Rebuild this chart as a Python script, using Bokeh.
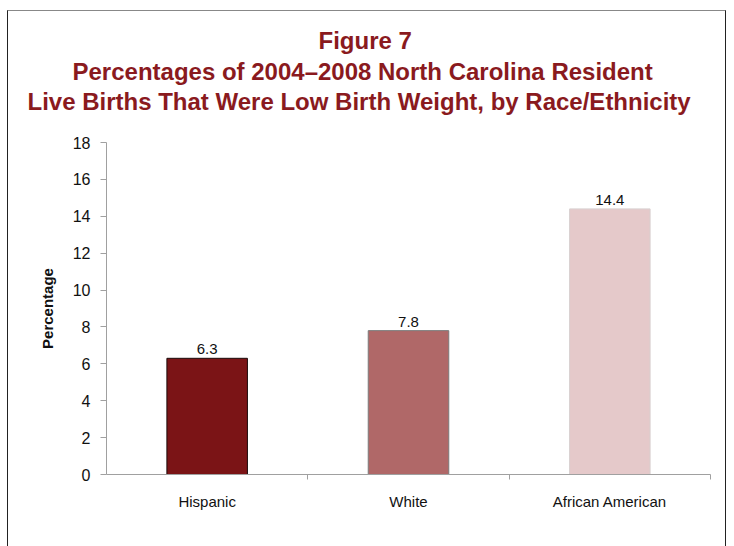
from bokeh.plotting import figure
from bokeh.models import ColumnDataSource, FixedTicker, Range1d, Title, LabelSet
from bokeh.core.properties import value
from bokeh.embed import file_html
from bokeh.resources import INLINE
import numpy as np

# Low birth weight share of NC resident live births, 2004-2008
categories = ["Hispanic", "White", "African American"]
percentages = [6.3, 7.8, 14.4]
bar_fill = ["#7B1416", "#B06868", "#E5C9CA"]
bar_edge = ["#1A0A0A", "#7A7A7A", "#D8D0D0"]
y_ticks = [0, 2, 4, 6, 8, 10, 12, 14, 16, 18]

centers = np.arange(len(categories)) + 0.5
source = ColumnDataSource(dict(
    x=centers,
    top=percentages,
    fill=bar_fill,
    edge=bar_edge,
    label=[f"{v:.1f}" for v in percentages],
))

FONT = "Liberation Sans"
TITLE_RED = "#8A1A1E"
W, H = 719, 540

p = figure(
    width=W, height=H,
    x_range=Range1d(0, len(categories)),
    y_range=Range1d(0, 18),
    output_backend="svg", toolbar_location=None,
    min_border_left=98, min_border_right=17,
    min_border_top=0, min_border_bottom=77,
)
p.margin = (10, 0, 0, 7)
p.styles = {
    "border-left": "1px solid #222",
    "border-right": "1px solid #222",
    "border-top": "1px solid #888",
}
p.outline_line_color = None
p.grid.visible = False
p.background_fill_color = "white"
p.border_fill_color = "white"

# bars
p.vbar(x="x", top="top", width=0.4, bottom=0, source=source,
       fill_color="fill", line_color="edge", line_width=1)

# value labels above bars
p.add_layout(LabelSet(x="x", y="top", text="label", source=source,
                      text_align="center", text_baseline="bottom", y_offset=4,
                      text_font=value(FONT), text_font_size="15px",
                      text_color="#111"))

# y axis
yax = p.yaxis[0]
yax.ticker = FixedTicker(ticks=y_ticks)
yax.minor_tick_line_color = None
yax.major_tick_in = 0
yax.major_tick_out = 6
yax.axis_line_color = "#A0A0A0"
yax.major_tick_line_color = "#A0A0A0"
yax.major_label_text_font = FONT
yax.major_label_text_font_size = "16px"
yax.major_label_text_color = "#111"
yax.major_label_standoff = 10
yax.axis_label = "Percentage"
yax.axis_label_text_font = FONT
yax.axis_label_text_font_style = "bold"
yax.axis_label_text_font_size = "15px"
yax.axis_label_text_color = "#111"
yax.axis_label_standoff = 14

# x axis: labels at category centres, separator ticks between categories
xax = p.xaxis[0]
xax.ticker = FixedTicker(ticks=list(centers),
                         minor_ticks=list(range(1, len(categories) + 1)))
xax.major_label_overrides = {float(c): name for c, name in zip(centers, categories)}
xax.major_tick_line_color = None
xax.minor_tick_in = 0
xax.minor_tick_out = 5
xax.minor_tick_line_color = "#A0A0A0"
xax.axis_line_color = "#A0A0A0"
xax.major_label_text_font = FONT
xax.major_label_text_font_size = "15px"
xax.major_label_text_color = "#111"
xax.major_label_standoff = 12


def spacer(px):
    # an empty title used only to leave vertical room in the header
    return Title(text=" ", text_font_size="1px", standoff=px)


# three-line title, left-aligned with per-line offsets so the block is
# centred on the whole chart rather than the plot area
title_lines = [
    "Figure 7",
    "Percentages of 2004\u20132008 North Carolina Resident",
    "Live Births That Were Low Birth Weight, by Race/Ethnicity",
]
title_offsets = [212, -34, -79]
title_standoffs = [4, 0, 2]

# titles stack upward from the plot area: first added sits lowest
p.add_layout(spacer(24), "above")
for line, off, so in reversed(list(zip(title_lines, title_offsets, title_standoffs))):
    p.add_layout(Title(text=line, align="left", offset=off, standoff=so,
                       text_font=FONT, text_font_style="bold",
                       text_font_size="24px", text_color=TITLE_RED), "above")
p.add_layout(spacer(8), "above")

open("out.html", "w").write(file_html(p, INLINE))
